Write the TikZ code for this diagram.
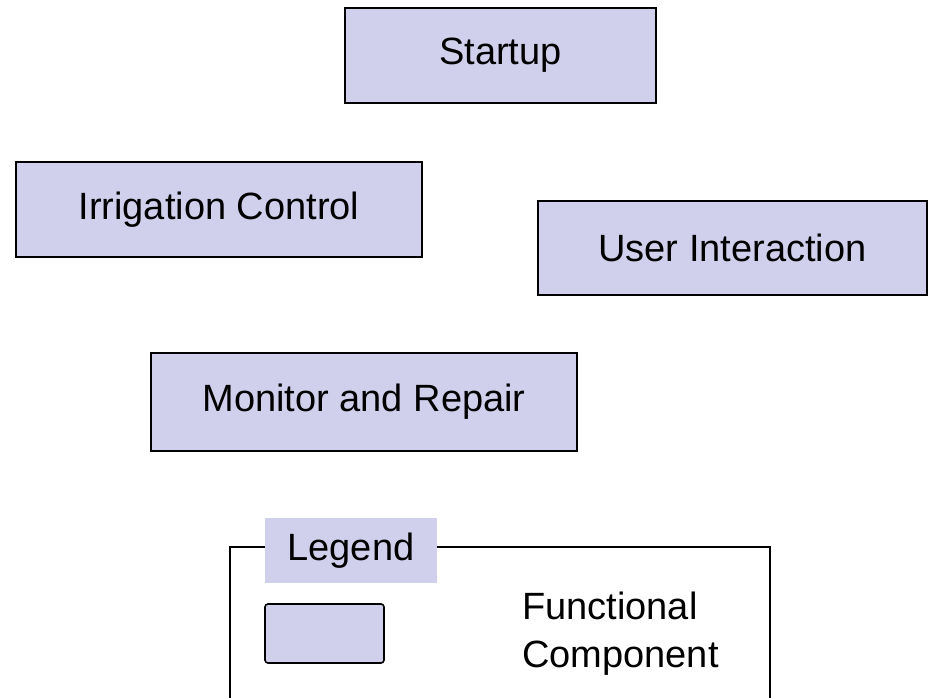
\documentclass[tikz,border=0pt]{standalone}
\usepackage{fontspec}
\setmainfont{Liberation Sans}
\definecolor{compfill}{RGB}{208,208,236}
\tikzset{
  comp/.style={draw=black, line width=1.6pt, fill=compfill, rectangle, inner sep=0pt,
    font=\fontsize{38}{46}\selectfont},
  frameline/.style={draw=black, line width=1.4pt},
  txt/.style={font=\fontsize{38}{48}\selectfont, inner sep=0pt}
}
\begin{document}
\begin{tikzpicture}[x=1pt, y=-1pt]
  \useasboundingbox (0,0) rectangle (928,698);
  \clip (0,0) rectangle (928,698);
  % functional components
  \node[comp, minimum width=311pt, minimum height=95pt] (startup) at (500.5,55.5) {Startup};
  \node[comp, minimum width=406pt, minimum height=95pt] (irrig) at (219,209.5) {Irrigation Control};
  \node[comp, minimum width=389pt, minimum height=94pt] (user) at (732.5,248) {User Interaction};
  \node[comp, minimum width=426pt, minimum height=98pt] (monitor) at (364,402) {Monitor and Repair};
  % legend frame
  \draw[frameline] (230,710) -- (230,547) -- (770,547) -- (770,710);
  \node[fill=compfill, minimum width=172pt, minimum height=65pt, inner sep=0pt,
        font=\fontsize{38}{46}\selectfont] (legend) at (351,550.5) {Legend};
  \node[draw=black, line width=1.6pt, fill=compfill, rounded corners=3pt,
        minimum width=119pt, minimum height=59pt, inner sep=0pt] (sample) at (324.5,633.5) {};
  \node[txt, anchor=west, align=left] (fc) at (522,634) {Functional\\Component};
\end{tikzpicture}
\end{document}
